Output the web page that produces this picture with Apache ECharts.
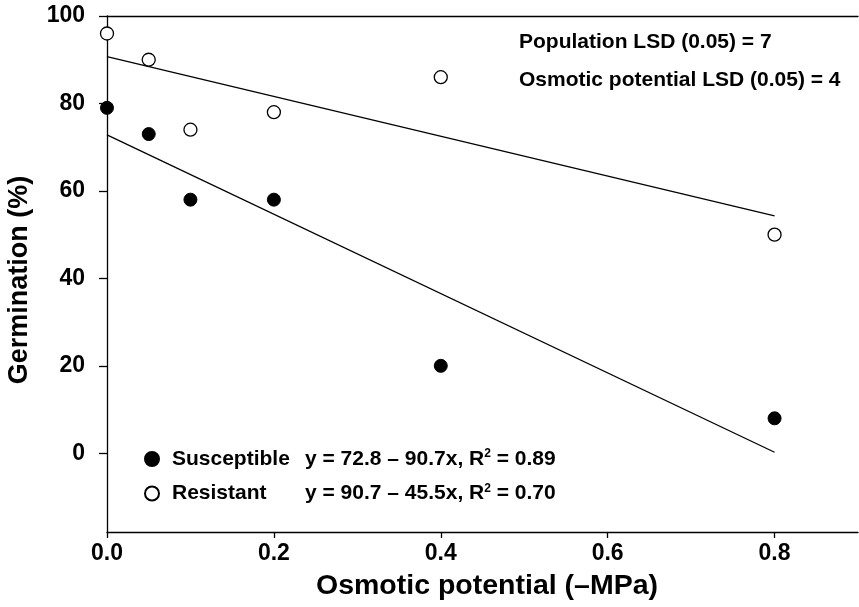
<!DOCTYPE html>
<html>
<head>
<meta charset="utf-8">
<script src="https://cdn.jsdelivr.net/npm/echarts@6/dist/echarts.min.js"></script>
<style>
html,body{margin:0;padding:0;background:#fff;}
#c{width:859px;height:607px;}
</style>
</head>
<body>
<div id="c"></div>
<script>
// ---- data ----
var osmotic = [0, 0.05, 0.1, 0.2, 0.4, 0.8];
var susceptible = [79, 73, 58, 58, 20, 8];
var resistant = [96, 90, 74, 78, 86, 50];
var fitX = [0, 0.8];
var susceptibleFit = [72.8, 0.24];
var resistantFit = [90.7, 54.3];
var xTicks = [0, 0.2, 0.4, 0.6, 0.8];
var yTicks = [0, 20, 40, 60, 80, 100];
var seriesNames = ['Susceptible', 'Resistant'];
var equations = ['y = 72.8 \u2013 90.7x, R', 'y = 90.7 \u2013 45.5x, R'];
var r2 = ['0.89', '0.70'];
var lsdLines = ['Population LSD (0.05) = 7', 'Osmotic potential LSD (0.05) = 4'];

function pairs(xs, ys){ return xs.map(function(x,i){ return [x, ys[i]]; }); }

var font = 'Liberation Sans, Arial, sans-serif';
var chart = echarts.init(document.getElementById('c'));
chart.setOption({
  animation: false,
  backgroundColor: '#fff',
  grid: {left: 107, right: 1, top: 16, bottom: 75, containLabel: false, outerBoundsMode: 'none'},
  xAxis: [{
    type: 'value', min: 0, max: 0.9,
    name: 'Osmotic potential (\u2013MPa)', nameLocation: 'middle', nameGap: 40,
    nameTextStyle: {fontFamily: font, fontWeight: 'bold', fontSize: 28.5, color: '#000', padding: [0, 0, 0, 9]},
    axisLine: {show: true, onZero: false, lineStyle: {color: '#000', width: 1.3}},
    axisTick: {show: true, length: 6, customValues: xTicks, lineStyle: {color: '#000', width: 1.3}},
    axisLabel: {customValues: xTicks, margin: 10, fontFamily: font, fontWeight: 'bold', fontSize: 23, color: '#000',
      formatter: function(v){ return v.toFixed(1); }},
    splitLine: {show: false}
  }, {
    type: 'value', min: 0, max: 0.9, position: 'top',
    axisLine: {show: true, onZero: false, lineStyle: {color: '#000', width: 1.3}},
    axisTick: {show: false}, axisLabel: {show: false}, splitLine: {show: false}
  }],
  yAxis: {
    type: 'value', min: -18, max: 100,
    name: 'Germination (%)', nameLocation: 'middle', nameGap: 74,
    nameTextStyle: {fontFamily: font, fontWeight: 'bold', fontSize: 27, color: '#000', padding: [0, 12, 0, 0]},
    axisLine: {show: true, onZero: false, lineStyle: {color: '#000', width: 1.3}},
    axisTick: {show: true, length: 8, customValues: yTicks, lineStyle: {color: '#000', width: 1.3}},
    axisLabel: {customValues: yTicks, margin: 22, fontFamily: font, fontWeight: 'bold', fontSize: 23, color: '#000'},
    splitLine: {show: false}
  },
  legend: {
    orient: 'vertical', left: 139, top: 443, itemGap: 13,
    itemWidth: 14, itemHeight: 14, icon: 'circle',
    data: seriesNames,
    formatter: function(name){
      var i = seriesNames.indexOf(name);
      return '{n|' + name + '}{e|' + equations[i] + '}{s|2}{e| = ' + r2[i] + '}';
    },
    textStyle: {
      rich: {
        n: {fontFamily: font, fontWeight: 'bold', fontSize: 21, lineHeight: 22, color: '#000', width: 133, padding: [0,0,0,8]},
        e: {fontFamily: font, fontWeight: 'bold', fontSize: 21, lineHeight: 22, color: '#000'},
        s: {fontFamily: font, fontWeight: 'bold', fontSize: 12, color: '#000', verticalAlign: 'top', padding: [0,0,10,0]}
      }
    }
  },
  graphic: [
    {type: 'text', left: 519, top: 32, style: {text: lsdLines[0], font: 'bold 21px Liberation Sans, Arial, sans-serif', fill: '#000'}},
    {type: 'text', left: 519, top: 70, style: {text: lsdLines[1], font: 'bold 21px Liberation Sans, Arial, sans-serif', fill: '#000'}}
  ],
  series: [
    {name: 'Susceptible', type: 'scatter', data: pairs(osmotic, susceptible), symbolSize: 13,
      itemStyle: {color: '#000', borderColor: '#000', borderWidth: 1, opacity: 1}, z: 5},
    {name: 'Resistant', type: 'scatter', data: pairs(osmotic, resistant), symbolSize: 13,
      itemStyle: {color: '#fff', borderColor: '#000', borderWidth: 1.3, opacity: 1}, z: 5},
    {type: 'line', data: pairs(fitX, susceptibleFit), symbol: 'none', silent: true,
      lineStyle: {color: '#000', width: 1.3}},
    {type: 'line', data: pairs(fitX, resistantFit), symbol: 'none', silent: true,
      lineStyle: {color: '#000', width: 1.3}}
  ]
});
</script>
</body>
</html>
